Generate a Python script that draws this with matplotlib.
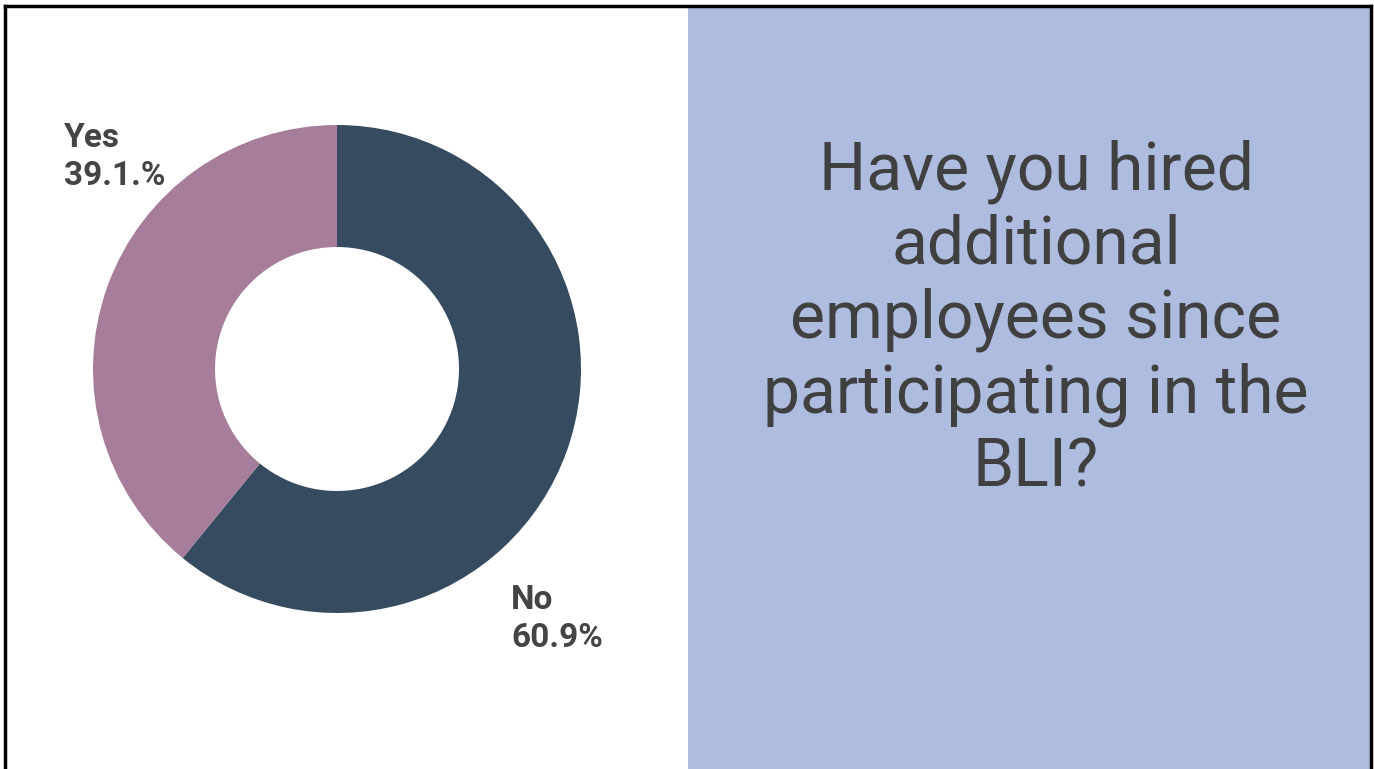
import matplotlib
matplotlib.use("Agg")
import matplotlib.pyplot as plt
from matplotlib.patches import Rectangle

categories = ["No", "Yes"]
values = [60.9, 39.1]
label_texts = ["No\n60.9%", "Yes\n39.1.%"]
colors = ["#364b60", "#a67d9a"]
question = "Have you hired\nadditional\nemployees since\nparticipating in the\nBLI?"

W, H = 1374, 769
fig = plt.figure(figsize=(W / 100, H / 100), dpi=100)
fig.patch.set_facecolor("white")

# background axes in pixel coordinates
bg = fig.add_axes([0, 0, 1, 1])
bg.set_xlim(0, W)
bg.set_ylim(H, 0)
bg.axis("off")
bg.add_patch(Rectangle((688, 6), 682, H - 6, facecolor="#aebce0", edgecolor="none"))
bg.plot([5, 5], [6, H], color="black", lw=2.5)
bg.plot([1371, 1371], [6, H], color="black", lw=2.5)
bg.plot([5, 1371], [6, 6], color="black", lw=2.5)

bg.text(1036, 320, question, ha="center", va="center", fontsize=47.5,
        family="Roboto", color="#404040", linespacing=1.2)

bg.text(64, 157, label_texts[1], ha="left", va="center", fontsize=24,
        family="Roboto", fontweight="bold", color="#444444", linespacing=1.25)
bg.text(511, 619, label_texts[0], ha="left", va="center", fontsize=24,
        family="Roboto", fontweight="bold", color="#444444", linespacing=1.25)

# donut
cx, cy, r = 337, 369, 244
ax = fig.add_axes([(cx - r) / W, 1 - (cy + r) / H, 2 * r / W, 2 * r / H])
ax.pie(values, colors=colors, startangle=90, counterclock=False,
       radius=1, wedgeprops=dict(width=0.5, edgecolor="none"))
ax.set_xlim(-1, 1)
ax.set_ylim(-1, 1)
ax.set_aspect("equal")
ax.axis("off")

fig.savefig("out.png", dpi=100)
